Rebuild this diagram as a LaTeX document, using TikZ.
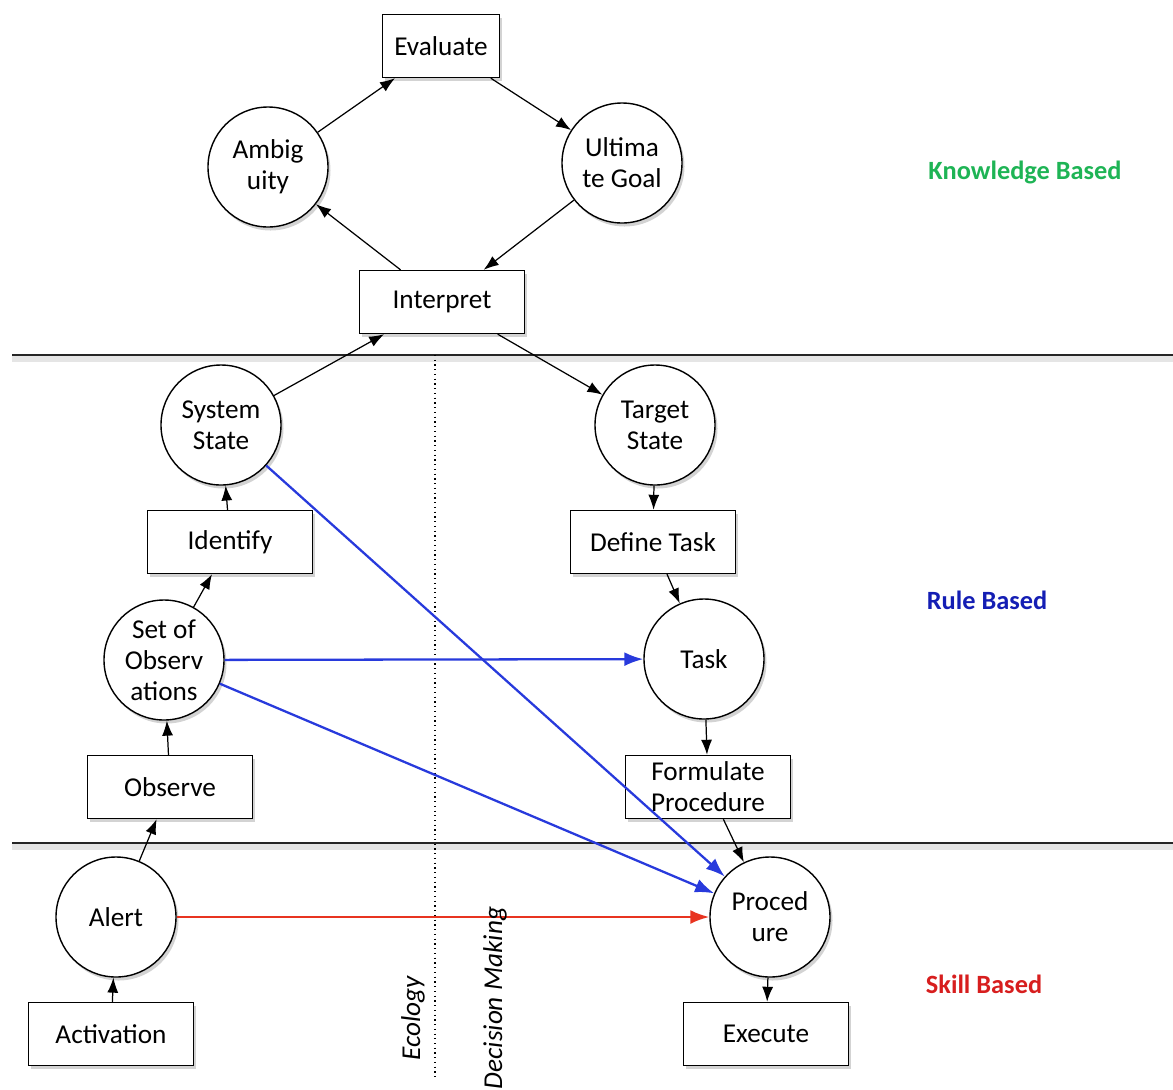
\documentclass[tikz,border=0pt]{standalone}
\usepackage{fontspec}
\setmainfont{Carlito}
\usetikzlibrary{arrows.meta,shadows}
\definecolor{linkblue}{RGB}{40,58,220}
\definecolor{linkred}{RGB}{232,52,32}
\definecolor{kbgreen}{RGB}{30,180,85}
\definecolor{rbblue}{RGB}{20,30,180}
\definecolor{sbred}{RGB}{215,30,30}

\begin{document}
\begin{tikzpicture}[x=0.2mm,y=-0.2mm,
  font=\fontsize{15.5}{17.5}\selectfont,
  box/.style={draw,fill=white,line width=0.8pt,minimum width=33mm,minimum height=12.6mm,align=center,
    drop shadow={opacity=0.35,shadow xshift=0.5mm,shadow yshift=-0.7mm}},
  state/.style={circle,draw,fill=white,line width=0.8pt,minimum size=24mm,inner sep=0pt,align=center,
    drop shadow={opacity=0.35,shadow xshift=0.5mm,shadow yshift=-0.7mm}},
  link/.style={line width=0.7pt,-{Latex[length=3mm,width=2.2mm]}},
  bluelink/.style={line width=1.3pt,linkblue,-{Latex[length=3.8mm,width=2.8mm]}},
  redlink/.style={line width=1.3pt,linkred,-{Latex[length=3.8mm,width=2.8mm]}},
  layer/.style={gray!30!black,line width=0.6pt},
  level/.style={font=\fontsize{15}{17}\selectfont\bfseries},
  side/.style={rotate=90,font=\fontsize{15.5}{17}\selectfont\itshape}]
\useasboundingbox (0,0) rectangle (1173,1089);

% layers and the ecology / decision making split
\fill[black!10] (12,356) rectangle (1173,362);
\fill[black!10] (12,844) rectangle (1173,850);
\draw[layer] (12,355) -- (1173,355);
\draw[layer] (12,843) -- (1173,843);
\draw[dotted,line width=0.7pt] (435,355) -- (435,1078);

% knowledge based
\node[box,minimum width=23.4mm] (evaluate) at (441,46) {Evaluate};
\node[state] (ambiguity) at (268,167) {Ambig\\uity};
\node[state] (goal) at (622,163) {Ultima\\te Goal};
\node[box] (interpret) at (442,302) {Interpret};

% rule based, ecology side
\node[state] (sysstate) at (221,425) {System\\State};
\node[box] (identify) at (230,542) {Identify};
\node[state] (observations) at (164,660) {Set of\\Observ\\ations};
\node[box] (observe) at (170,787) {Observe};

% rule based, decision side
\node[state] (tgtstate) at (655,425) {Target\\State};
\node[box] (deftask) at (653,542) {Define Task};
\node[state] (task) at (704,659) {Task};
\node[box] (formulate) at (708,787) {Formulate\\Procedure};

% skill based
\node[state] (alert) at (116,917) {Alert};
\node[box] (activation) at (111,1034) {Activation};
\node[state] (procedure) at (770,917) {Proced\\ure};
\node[box] (execute) at (766,1034) {Execute};

\draw[link] (ambiguity) -- (evaluate);
\draw[link] (evaluate) -- (goal);
\draw[link] (goal) -- (interpret);
\draw[link] (interpret) -- (ambiguity);
\draw[link] (sysstate) -- (interpret);
\draw[link] (interpret) -- (tgtstate);
\draw[link] (identify) -- (sysstate);
\draw[link] (observations) -- (identify);
\draw[link] (observe) -- (observations);
\draw[link] (alert) -- (observe);
\draw[link] (activation) -- (alert);
\draw[link] (tgtstate) -- (deftask);
\draw[link] (deftask) -- (task);
\draw[link] (task) -- (formulate);
\draw[link] (formulate) -- (procedure);
\draw[link] (procedure) -- (execute);

\draw[bluelink] (sysstate) -- (procedure);
\draw[bluelink] (observations) -- (task);
\draw[bluelink] (observations) -- (procedure);
\draw[redlink] (alert) -- (procedure);

\node[level,text=kbgreen] (kb) at (1025,172) {Knowledge Based};
\node[level,text=rbblue] (rb) at (987,600) {Rule Based};
\node[level,text=sbred] (sb) at (984,984) {Skill Based};
\node[side] (ecology) at (413,1018) {Ecology};
\node[side] (decision) at (495,998) {Decision Making};
\end{tikzpicture}
\end{document}
